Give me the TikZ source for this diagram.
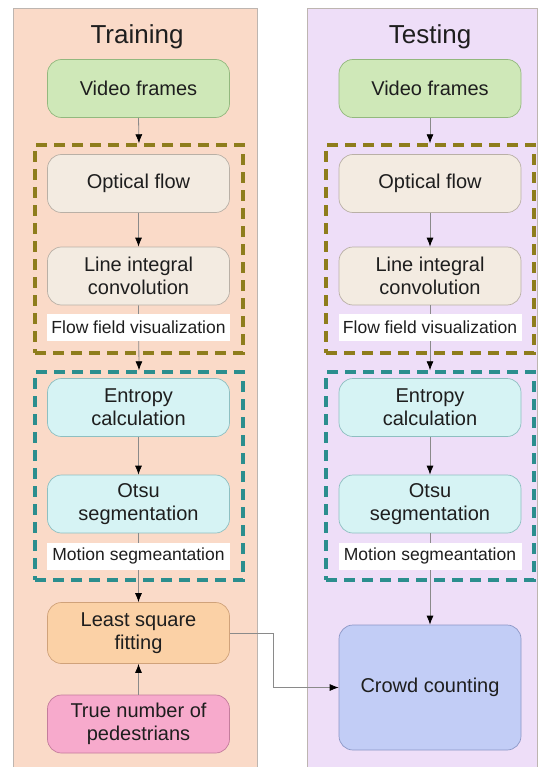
\documentclass[tikz,border=0pt]{standalone}
\usepackage{fontspec}
\setmainfont{Liberation Sans}
\usetikzlibrary{arrows.meta}
\definecolor{panelL}{HTML}{FADAC8}
\definecolor{panelR}{HTML}{EEDEF8}
\definecolor{panelB}{HTML}{BDB5B0}
\definecolor{vfF}{HTML}{CFE8B8}\definecolor{vfD}{HTML}{93B87E}
\definecolor{ofF}{HTML}{F3EBE1}\definecolor{ofD}{HTML}{B9B0A6}
\definecolor{enF}{HTML}{D6F3F4}\definecolor{enD}{HTML}{8EBFC1}
\definecolor{lsF}{HTML}{FBD1A6}\definecolor{lsD}{HTML}{D0A27A}
\definecolor{tnF}{HTML}{F7AACC}\definecolor{tnD}{HTML}{C47C9C}
\definecolor{ccF}{HTML}{C2CDF6}\definecolor{ccD}{HTML}{8C97C6}
\definecolor{olive}{HTML}{8E7D1C}
\definecolor{teal2}{HTML}{2B8E8E}
\definecolor{txt}{HTML}{1E1E1E}
\definecolor{lineC}{HTML}{8A8A8A}
\tikzset{
  box/.style={rectangle, rounded corners=14pt, draw, line width=0.7pt, align=center,
    text=txt, minimum width=182pt, font=\fontsize{20}{23}\selectfont, inner sep=2pt},
  vfbox/.style={box, fill=vfF, draw=vfD, minimum height=58pt},
  ofbox/.style={box, fill=ofF, draw=ofD, minimum height=58pt},
  enbox/.style={box, fill=enF, draw=enD, minimum height=58pt},
  lsbox/.style={box, fill=lsF, draw=lsD, minimum height=61pt},
  tnbox/.style={box, fill=tnF, draw=tnD, minimum height=58pt},
  ccbox/.style={box, fill=ccF, draw=ccD, minimum height=125pt},
  grpO/.style={rectangle, draw=olive, line width=3.4pt, dash pattern=on 11pt off 7pt, minimum width=208pt, inner sep=0pt},
  grpT/.style={rectangle, draw=teal2, line width=3.4pt, dash pattern=on 11pt off 7pt, minimum width=208pt, inner sep=0pt},
  lbl/.style={rectangle, fill=white, text=txt, font=\fontsize{17.5}{20}\selectfont, minimum width=183pt, minimum height=27pt, inner sep=1pt},
  ttl/.style={text=txt, font=\fontsize{26}{30}\selectfont},
  arr/.style={draw=lineC, line width=0.8pt, -{Latex[length=9pt,width=7pt,black]}},
  pnl/.style={draw=panelB, line width=0.6pt}
}
\begin{document}
\begin{tikzpicture}[x=1pt,y=1pt]
\useasboundingbox (0,0) rectangle (539,-767);
\fill[white] (0,0) rectangle (539,-767);
% panels
\path[pnl, fill=panelL] (13,-8) rectangle (257,-770);
\path[pnl, fill=panelR] (307,-8) rectangle (537,-770);
% titles
\node[ttl] (tTrain) at (137,-37) {Training};
\node[ttl] (tTest) at (430,-37) {Testing};
% group boxes
\node[grpO, minimum height=208pt] (gOL) at (139,-249) {};
\node[grpT, minimum height=208pt] (gTL) at (139,-476) {};
\node[grpO, minimum height=208pt] (gOR) at (430,-249) {};
\node[grpT, minimum height=208pt] (gTR) at (430,-476) {};
% left column
\node[vfbox] (vfL) at (138.5,-88.5) {Video frames};
\node[ofbox] (ofL) at (138.5,-183.5) {Optical flow};
\node[ofbox] (liL) at (138.5,-276) {Line integral\\convolution};
\node[enbox] (enL) at (138.5,-407.5) {Entropy\\calculation};
\node[enbox] (osL) at (138.5,-504) {Otsu\\segmentation};
\node[lsbox] (lsL) at (138.5,-633) {Least square\\fitting};
\node[tnbox] (tnL) at (138.5,-724) {True number of\\pedestrians};
% right column
\node[vfbox] (vfR) at (430,-88.5) {Video frames};
\node[ofbox] (ofR) at (430,-183.5) {Optical flow};
\node[ofbox] (liR) at (430,-276) {Line integral\\convolution};
\node[enbox] (enR) at (430,-407.5) {Entropy\\calculation};
\node[enbox] (osR) at (430,-504) {Otsu\\segmentation};
\node[ccbox] (ccR) at (430,-687.5) {Crowd counting};
% connectors
\draw[arr] (vfL.south) -- (gOL.north);
\draw[arr] (ofL.south) -- (liL.north);
\draw[arr] (liL.south) -- (gTL.north);
\draw[arr] (enL.south) -- (osL.north);
\draw[arr] (osL.south) -- (lsL.north);
\draw[arr] (tnL.north) -- (lsL.south);
\draw[arr] (vfR.south) -- (gOR.north);
\draw[arr] (ofR.south) -- (liR.north);
\draw[arr] (liR.south) -- (gTR.north);
\draw[arr] (enR.south) -- (osR.north);
\draw[arr] (osR.south) -- (ccR.north);
\coordinate (turn) at (273,-633);
\draw[arr] (lsL.east) -- (turn) |- (ccR.west);
% group labels (over the connectors)
\node[lbl] (flL) at (138.5,-327.5) {Flow field visualization};
\node[lbl] (msL) at (138.5,-556) {Motion segmeantation};
\node[lbl] (flR) at (430,-327.5) {Flow field visualization};
\node[lbl] (msR) at (430,-556) {Motion segmeantation};
\end{tikzpicture}
\end{document}
